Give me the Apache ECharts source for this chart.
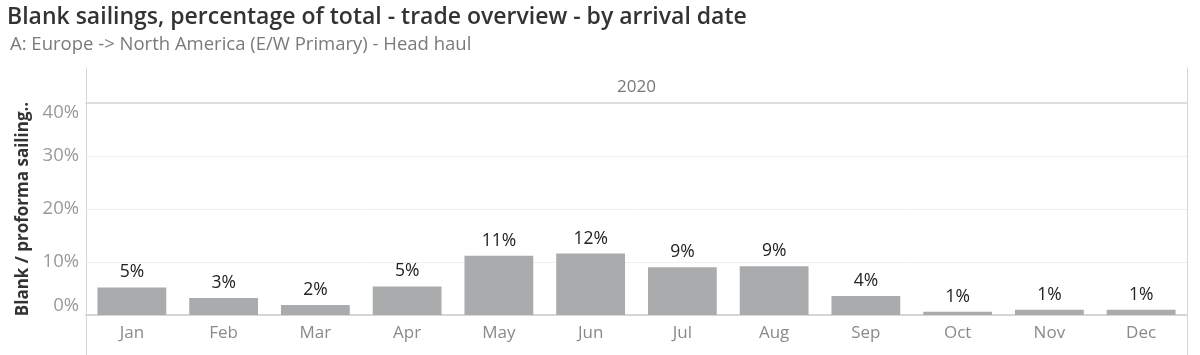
<!DOCTYPE html>
<html>
<head>
<meta charset="utf-8">
<script src="https://cdn.jsdelivr.net/npm/echarts@6/dist/echarts.min.js"></script>
<style>
  html, body { margin: 0; padding: 0; background: #fff; }
  #chart { width: 1200px; height: 355px; }
</style>
</head>
<body>
<div id="chart"></div>
<script>
const months = ['Jan', 'Feb', 'Mar', 'Apr', 'May', 'Jun', 'Jul', 'Aug', 'Sep', 'Oct', 'Nov', 'Dec']
const blankPct = [5.2, 3.2, 1.9, 5.4, 11.2, 11.6, 9.0, 9.2, 3.6, 0.6, 1.0, 1.0]
const yearLabel = ['2020']

const font = '"Open Sans", "Noto Sans", sans-serif'
const chart = echarts.init(document.getElementById('chart'))

chart.setOption({
  animation: false,
  textStyle: { fontFamily: font },
  title: [
    {
      text: 'Blank sailings, percentage of total - trade overview - by arrival date',
      left: 2,
      top: 1,
      textStyle: { fontSize: 23, fontWeight: 600, color: '#333', fontFamily: font }
    },
    {
      text: 'A: Europe -> North America (E/W Primary) - Head haul',
      left: 5,
      top: 30,
      textStyle: { fontSize: 18.5, fontWeight: 'normal', color: '#7a7a7a', fontFamily: font }
    }
  ],
  grid: [
    { left: 86, right: 13, top: 103, bottom: 40 },
    // frame lines of the pane
    { left: 86, right: 13, top: 68, bottom: -2 }
  ],
  xAxis: [
    {
      type: 'category',
      data: months,
      gridIndex: 0,
      axisTick: { show: false },
      axisLine: { lineStyle: { color: '#d6d6d6', width: 2 } },
      axisLabel: { color: '#8a8a8a', fontSize: 17, margin: 10 }
    },
    {
      type: 'category',
      data: yearLabel,
      gridIndex: 0,
      position: 'top',
      axisTick: { show: false },
      axisLine: { show: true, lineStyle: { color: '#d6d6d6', width: 1.5 } },
      axisLabel: { color: '#777', fontSize: 17, margin: 7 }
    },
    { type: 'value', gridIndex: 1, show: false }
  ],
  yAxis: [
    {
      type: 'value',
      gridIndex: 0,
      min: 0,
      max: 40,
      interval: 10,
      name: 'Blank / proforma sailing..',
      nameLocation: 'middle',
      nameGap: 54,
      nameTextStyle: { fontSize: 17, fontWeight: 'bold', color: '#333' },
      axisLine: { show: false },
      axisTick: { show: false },
      axisLabel: {
        color: '#999',
        fontSize: 18.5,
        margin: 7,
        formatter: '{value}%',
        verticalAlignMinLabel: 'bottom',
        verticalAlignMaxLabel: 'top'
      },
      splitLine: { lineStyle: { color: '#eeeeee' } }
    },
    {
      type: 'value', gridIndex: 1, position: 'left',
      axisLine: { show: true, lineStyle: { color: '#d6d6d6' } },
      axisTick: { show: false }, axisLabel: { show: false }, splitLine: { show: false }
    },
    {
      type: 'value', gridIndex: 1, position: 'right',
      axisLine: { show: true, lineStyle: { color: '#d6d6d6' } },
      axisTick: { show: false }, axisLabel: { show: false }, splitLine: { show: false }
    }
  ],
  series: [
    {
      type: 'bar',
      xAxisIndex: 0,
      yAxisIndex: 0,
      data: blankPct,
      barWidth: '75%',
      itemStyle: { color: '#a9abac' },
      label: {
        show: true,
        position: 'top',
        distance: 6,
        color: '#222',
        fontSize: 17.5,
        formatter: p => Math.round(p.value) + '%'
      }
    }
  ]
})
</script>
</body>
</html>
